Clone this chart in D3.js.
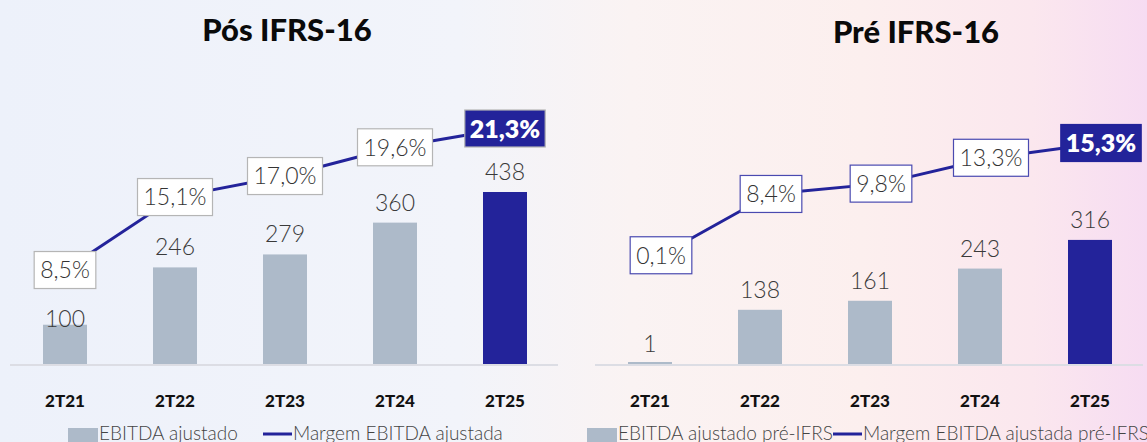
<!DOCTYPE html>
<html>
<head>
<meta charset="utf-8">
<script src="https://cdn.jsdelivr.net/npm/d3@7"></script>
<style>
  html, body { margin: 0; padding: 0; }
  body { width: 1147px; height: 442px; overflow: hidden; }
  svg { display: block; font-family: Lato, "Noto Sans", sans-serif; }
</style>
</head>
<body>
<svg id="chart" width="1147" height="442"></svg>
<script>
// ---- data ----
const categories = ["2T21", "2T22", "2T23", "2T24", "2T25"];
const ebitdaPos = [100, 246, 279, 360, 438];
const margemPos = [8.5, 15.1, 17.0, 19.6, 21.3];
const ebitdaPre = [1, 138, 161, 243, 316];
const margemPre = [0.1, 8.4, 9.8, 13.3, 15.3];
const titles = ["Pós IFRS-16", "Pré IFRS-16"];
const legendBarLabels = ["EBITDA ajustado", "EBITDA ajustado pré-IFRS"];
const legendLineLabels = ["Margem EBITDA ajustada", "Margem EBITDA ajustada pré-IFRS"];

const fmtPct = v => v.toFixed(1).replace(".", ",") + "%";

const NAVY = "#23239a";
const GRAY = "#adbac9";

const svg = d3.select("#chart");

// background gradient
const defs = svg.append("defs");
const grad = defs.append("linearGradient").attr("id", "bg").attr("x1", "0").attr("x2", "1").attr("y1", "0").attr("y2", "0");
[["0%", "#edf1fa"], ["40%", "#f2f4fa"], ["55%", "#faf3f3"], ["75%", "#fcefee"], ["90%", "#fbe7ee"], ["100%", "#f6dcf2"]]
  .forEach(([o, c]) => grad.append("stop").attr("offset", o).attr("stop-color", c));
svg.append("rect").attr("width", 1147).attr("height", 442).attr("fill", "url(#bg)");

const baseY = 364;
const yBar = d3.scaleLinear().domain([0, 438]).range([baseY, 192]);

const charts = [
  {
    title: titles[0], titleX: 287, titleY: 41,
    bars: ebitdaPos, margins: margemPos,
    xRange: [10, 560],
    yM: d3.scaleLinear().domain([0, 21.3]).range([baseY, 128.5]),
    labelShift: 0, boxStroke: "#b5b5b5",
    legend: { bar: legendBarLabels[0], line: legendLineLabels[0], x: 68, lineX: 263 }
  },
  {
    title: titles[1], titleX: 916, titleY: 43,
    bars: ebitdaPre, margins: margemPre,
    xRange: [595, 1145],
    yM: d3.scaleLinear().domain([0, 15.3]).range([256, 143]),
    labelShift: 11, boxStroke: "#4a4ab0",
    legend: { bar: legendBarLabels[1], line: legendLineLabels[1], x: 587, lineX: 833 }
  }
];

charts.forEach((c, ci) => {
  const g = svg.append("g");
  const x = d3.scaleBand().domain(categories).range(c.xRange).paddingInner(0.6).paddingOuter(0.3);
  const last = categories.length - 1;

  // title
  g.append("text").attr("x", c.titleX).attr("y", c.titleY).attr("text-anchor", "middle")
    .attr("font-size", 31).attr("font-weight", 900).attr("fill", "#0a0a0a").text(c.title);

  // baseline
  g.append("line").attr("x1", c.xRange[0]).attr("x2", c.xRange[1] - 2).attr("y1", baseY + 1).attr("y2", baseY + 1)
    .attr("stroke", "#dcdde4").attr("stroke-width", 2);

  // bars
  g.selectAll("rect.bar").data(c.bars).join("rect").attr("class", "bar")
    .attr("x", (d, i) => x(categories[i]))
    .attr("width", x.bandwidth())
    .attr("y", d => Math.min(yBar(d), baseY - 2))
    .attr("height", d => Math.max(baseY - yBar(d), 2))
    .attr("fill", (d, i) => i === last ? NAVY : GRAY);

  // bar value labels
  g.selectAll("text.val").data(c.bars).join("text").attr("class", "val")
    .attr("x", (d, i) => x(categories[i]) + x.bandwidth() / 2)
    .attr("y", (d, i) => yBar(d) - ((ci === 0 && i === 0) ? -2 : 12))
    .attr("text-anchor", "middle").attr("font-size", 23).attr("font-weight", 300)
    .attr("fill", "#3a3a3a").text(d => d);

  // x-axis labels
  const xAxis = d3.axisBottom(x).tickSize(0).tickPadding(0);
  const ax = g.append("g").attr("transform", `translate(0, 391)`).call(xAxis);
  ax.select(".domain").remove();
  ax.selectAll("text").attr("font-size", 17).attr("font-weight", 900).attr("fill", "#111")
    .attr("font-family", "Lato, sans-serif").attr("dy", "0.95em");

  // margin line
  const px = i => x(categories[i]) + x.bandwidth() / 2 + c.labelShift;
  const line = d3.line().x((d, i) => px(i)).y(d => c.yM(d));
  g.append("path").datum(c.margins).attr("d", line).attr("fill", "none")
    .attr("stroke", NAVY).attr("stroke-width", 3);

  // margin labels with boxes
  const lg = g.selectAll("g.ml").data(c.margins).join("g").attr("class", "ml")
    .attr("transform", (d, i) => `translate(${px(i)}, ${c.yM(d)})`);
  lg.each(function (d, i) {
    const sel = d3.select(this);
    const isLast = i === last;
    const rect = sel.append("rect");
    const t = sel.append("text").attr("text-anchor", "middle").attr("dy", "0.36em")
      .attr("font-size", isLast ? 25 : 23).attr("font-weight", isLast ? 800 : 300)
      .attr("fill", isLast ? "#ffffff" : "#333333").text(fmtPct(d));
    const w = t.node().getComputedTextLength() + (isLast ? 10 : 12);
    const h = 37;
    rect.attr("x", -w / 2).attr("y", -h / 2).attr("width", w).attr("height", h)
      .attr("fill", isLast ? NAVY : "#ffffff")
      .attr("stroke", isLast ? (ci === 0 ? "#b5b5b5" : NAVY) : c.boxStroke).attr("stroke-width", 1.2);
  });

  // legend
  const L = c.legend;
  g.append("rect").attr("x", L.x).attr("y", 428).attr("width", 30).attr("height", 14).attr("fill", GRAY);
  g.append("text").attr("x", L.x + 31).attr("y", 440).attr("font-size", 19).attr("font-weight", 300)
    .attr("fill", "#444").text(L.bar);
  g.append("line").attr("x1", L.lineX).attr("x2", L.lineX + 29).attr("y1", 434).attr("y2", 434)
    .attr("stroke", NAVY).attr("stroke-width", 3);
  g.append("text").attr("x", L.lineX + 30).attr("y", 440).attr("font-size", 19).attr("font-weight", 300)
    .attr("fill", "#444").text(L.line);
});
</script>
</body>
</html>
